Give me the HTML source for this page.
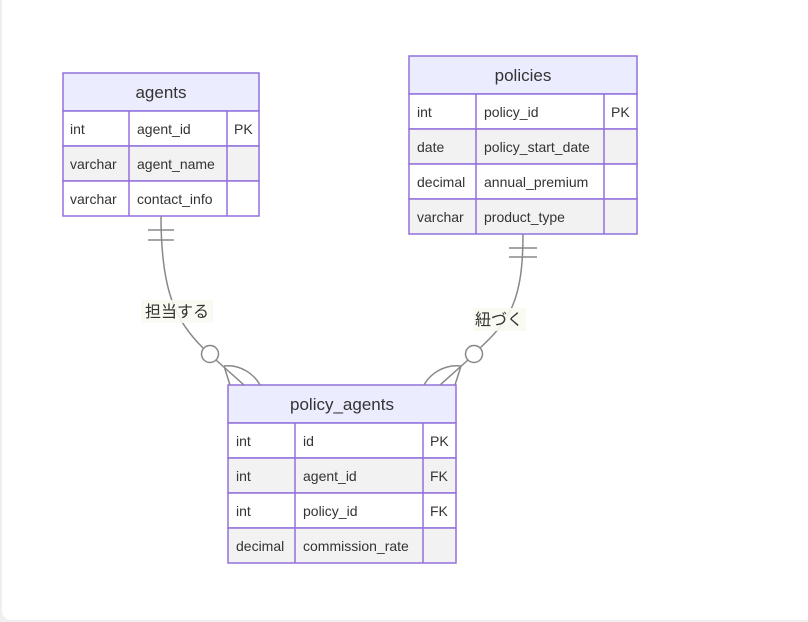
<!DOCTYPE html>
<html><head><meta charset="utf-8"><style>
html,body{margin:0;padding:0;width:808px;height:622px;overflow:hidden;background:#efefef}
svg{display:block}
text{font-family:"Liberation Sans","Noto Sans CJK JP",sans-serif;fill:#333}
.c{font-size:14px}
.h{font-size:17px}
</style></head><body>
<svg width="808" height="622" viewBox="0 0 808 622">
<rect x="2" y="-20" width="840" height="640" rx="9" fill="#fff"/>
<g stroke="#9370db" stroke-width="1.5">
<!-- agents -->
<rect x="63" y="73" width="196" height="38" fill="#ececff"/>
<rect x="63" y="111" width="196" height="35" fill="#fff"/>
<rect x="63" y="146" width="196" height="35" fill="#f2f2f2"/>
<rect x="63" y="181" width="196" height="35" fill="#fff"/>
<line x1="129" y1="111" x2="129" y2="216"/><line x1="227" y1="111" x2="227" y2="216"/>
<!-- policies -->
<rect x="409" y="56" width="228" height="38" fill="#ececff"/>
<rect x="409" y="94" width="228" height="35" fill="#fff"/>
<rect x="409" y="129" width="228" height="35" fill="#f2f2f2"/>
<rect x="409" y="164" width="228" height="35" fill="#fff"/>
<rect x="409" y="199" width="228" height="35" fill="#f2f2f2"/>
<line x1="476" y1="94" x2="476" y2="234"/><line x1="604" y1="94" x2="604" y2="234"/>
<!-- policy_agents -->
<rect x="228" y="385" width="228" height="38" fill="#ececff"/>
<rect x="228" y="423" width="228" height="35" fill="#fff"/>
<rect x="228" y="458" width="228" height="35" fill="#f2f2f2"/>
<rect x="228" y="493" width="228" height="35" fill="#fff"/>
<rect x="228" y="528" width="228" height="35" fill="#f2f2f2"/>
<line x1="295" y1="423" x2="295" y2="563"/><line x1="423" y1="423" x2="423" y2="563"/>
</g>
<text class="h" x="161" y="98" text-anchor="middle">agents</text>
<text class="c" x="70" y="134">int</text><text class="c" x="137" y="134">agent_id</text><text class="c" x="234" y="134">PK</text>
<text class="c" x="70" y="169">varchar</text><text class="c" x="137" y="169">agent_name</text>
<text class="c" x="70" y="204">varchar</text><text class="c" x="137" y="204">contact_info</text>

<text class="h" x="523" y="81" text-anchor="middle">policies</text>
<text class="c" x="417" y="117">int</text><text class="c" x="484" y="117">policy_id</text><text class="c" x="611" y="117">PK</text>
<text class="c" x="417" y="152">date</text><text class="c" x="484" y="152">policy_start_date</text>
<text class="c" x="417" y="187">decimal</text><text class="c" x="484" y="187">annual_premium</text>
<text class="c" x="417" y="222">varchar</text><text class="c" x="484" y="222">product_type</text>

<text class="h" x="342" y="410" text-anchor="middle">policy_agents</text>
<text class="c" x="236" y="446">int</text><text class="c" x="303" y="446">id</text><text class="c" x="430" y="446">PK</text>
<text class="c" x="236" y="481">int</text><text class="c" x="303" y="481">agent_id</text><text class="c" x="430" y="481">FK</text>
<text class="c" x="236" y="516">int</text><text class="c" x="303" y="516">policy_id</text><text class="c" x="430" y="516">FK</text>
<text class="c" x="236" y="551">decimal</text><text class="c" x="303" y="551">commission_rate</text>

<g stroke="#888" stroke-width="1.5" fill="none">
<path d="M161,216 C161,290 175,320 203,348"/>
<line x1="148" y1="230" x2="174" y2="230"/><line x1="148" y1="240" x2="174" y2="240"/>
<circle cx="210" cy="354" r="8.5" fill="#fff"/>
<line x1="216" y1="360" x2="244" y2="385"/>
<path d="M224,366 L230,385"/>
<path d="M224,366 C240,364 254,374 260,385"/>

<path d="M523,234 C523,300 510,320 480,348"/>
<line x1="509" y1="248" x2="537" y2="248"/><line x1="509" y1="257" x2="537" y2="257"/>
<circle cx="474" cy="354" r="8.5" fill="#fff"/>
<line x1="468" y1="360" x2="440" y2="385"/>
<path d="M461,366 L455,385"/>
<path d="M461,366 C444,364 430,374 424,385"/>
</g>
<rect x="141" y="300" width="72" height="23" fill="#f8faf0" opacity="0.9"/>
<text x="177" y="317" text-anchor="middle" style="font-size:16px">担当する</text>
<rect x="473" y="308" width="53" height="23" fill="#f8faf0" opacity="0.9"/>
<text x="499" y="325" text-anchor="middle" style="font-size:16px">紐づく</text>
</svg>
</body></html>
